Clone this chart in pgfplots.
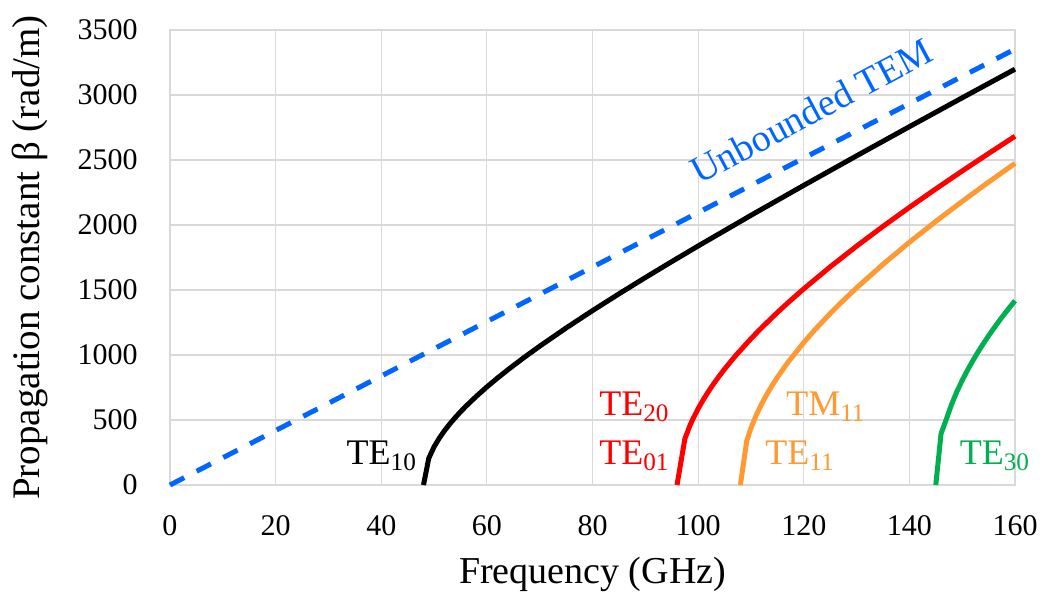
\documentclass[border=0pt]{standalone}
\usepackage{fontspec}
\setmainfont{Liberation Serif}
\usepackage{pgfplots}
\pgfplotsset{compat=1.18}
\definecolor{temblue}{RGB}{0,102,255}
\definecolor{tered}{RGB}{255,0,0}
\definecolor{teorange}{RGB}{255,153,51}
\definecolor{tegreen}{RGB}{0,176,80}
\definecolor{gridgray}{RGB}{217,217,217}
\begin{document}
\begin{tikzpicture}
\begin{axis}[
  scale only axis, width=422.5pt, height=227.5pt,
  xmin=0, xmax=160, ymin=0, ymax=3500,
  xtick={0,20,...,160}, ytick={0,500,...,3500},
  grid=major, grid style={draw=gridgray, line width=0.6pt},
  axis line style={draw=gridgray, line width=0.6pt},
  major tick length=0pt,
  /pgf/number format/assume math mode=true,
  /pgf/number format/1000 sep={},
  ticklabel style={font=\fontsize{15}{18}\selectfont, inner sep=0pt},
  xticklabel style={anchor=base, yshift=-25pt},
  yticklabel style={anchor=east, xshift=-16pt},
  xlabel={Frequency (GHz)},
  ylabel={Propagation constant β (rad/m)},
  xlabel style={at={([yshift=-49pt]axis description cs:0.5,0)}, anchor=base, inner sep=0pt, font=\fontsize{19}{22}\selectfont},
  ylabel style={at={([xshift=-65pt]axis description cs:0,0.5)}, anchor=base, inner sep=0pt, font=\fontsize{19.5}{22}\selectfont},
  clip=false,
  every axis plot/.append style={line width=2.5pt, line join=round},
]
\addplot[temblue, dash pattern=on 8pt off 7pt] coordinates {(0,0) (160,3353)};
\addplot[black] coordinates {
 (48,0) (49,206) (50,293.4) (51,361.2) (52,419.2) (53,471.0) (54,518.5) (55,562.8)
 (56,604.5) (58,682.3) (60,754.5) (62,822.4) (64,887.2) (67,979.7) (70,1067.8)
 (75,1207.8) (80,1341.3) (85,1470.2) (90,1595.6) (95,1718.2) (100,1838.6)
 (110,2074.3) (120,2305.0) (130,2532.0) (140,2756.3) (150,2978.4) (160,3198.8)};
\addplot[tered] coordinates {
 (96,0) (97.5,357) (98.5,462.1) (99,506.9) (100,586.8) (101,657.8) (102,722.4)
 (103,782.2) (104,838.3) (105,891.4) (107,990.4) (110,1125.5) (112,1209.0)
 (115,1327.0) (117,1401.7) (120,1509.0) (125,1677.8) (130,1837.2) (135,1989.3)
 (140,2135.7) (145,2277.5) (150,2415.6) (155,2550.4) (160,2682.6)};
\addplot[teorange] coordinates {
 (108,0) (109.2,338) (110,437.6) (111,537.2) (112,621.7) (113,696.7) (114,764.9)
 (115,828.0) (117,943.1) (120,1096.3) (122,1189.3) (125,1319.0) (127,1400.4)
 (130,1516.5) (135,1697.6) (140,1867.0) (145,2027.7) (150,2181.6) (155,2330.1) (160,2474.1)};
\addplot[tegreen] coordinates {
 (145,0) (146,395) (147,506.5) (148,621.4) (149,718.7) (150,804.9) (151,883.2)
 (152,955.6) (153,1023.3) (154,1087.2) (155,1147.9) (156,1206.0) (157,1261.7)
 (158,1315.4) (159,1367.3) (160,1417.6)};
\begin{scope}[every node/.style={anchor=base, inner sep=0pt, font=\fontsize{18}{20}\selectfont}]
\node[black] at (axis cs:40.1,154) {TE\textsubscript{10}};
\node[tered] at (axis cs:87.95,531) {TE\textsubscript{20}};
\node[tered] at (axis cs:87.95,154) {TE\textsubscript{01}};
\node[teorange] at (axis cs:124.2,531) {TM\textsubscript{11}};
\node[teorange] at (axis cs:119.3,154) {TE\textsubscript{11}};
\node[tegreen] at (axis cs:156.2,154) {TE\textsubscript{30}};
\node[temblue, rotate=28, font=\fontsize{19}{20}\selectfont] at (axis cs:122.6,2790) {Unbounded TEM};
\end{scope}
\end{axis}
\pgfresetboundingbox
\path[use as bounding box] ([shift={(-85pt,-55pt)}]current axis.south west) rectangle ([shift={(14pt,15pt)}]current axis.north east);
\end{tikzpicture}
\end{document}
